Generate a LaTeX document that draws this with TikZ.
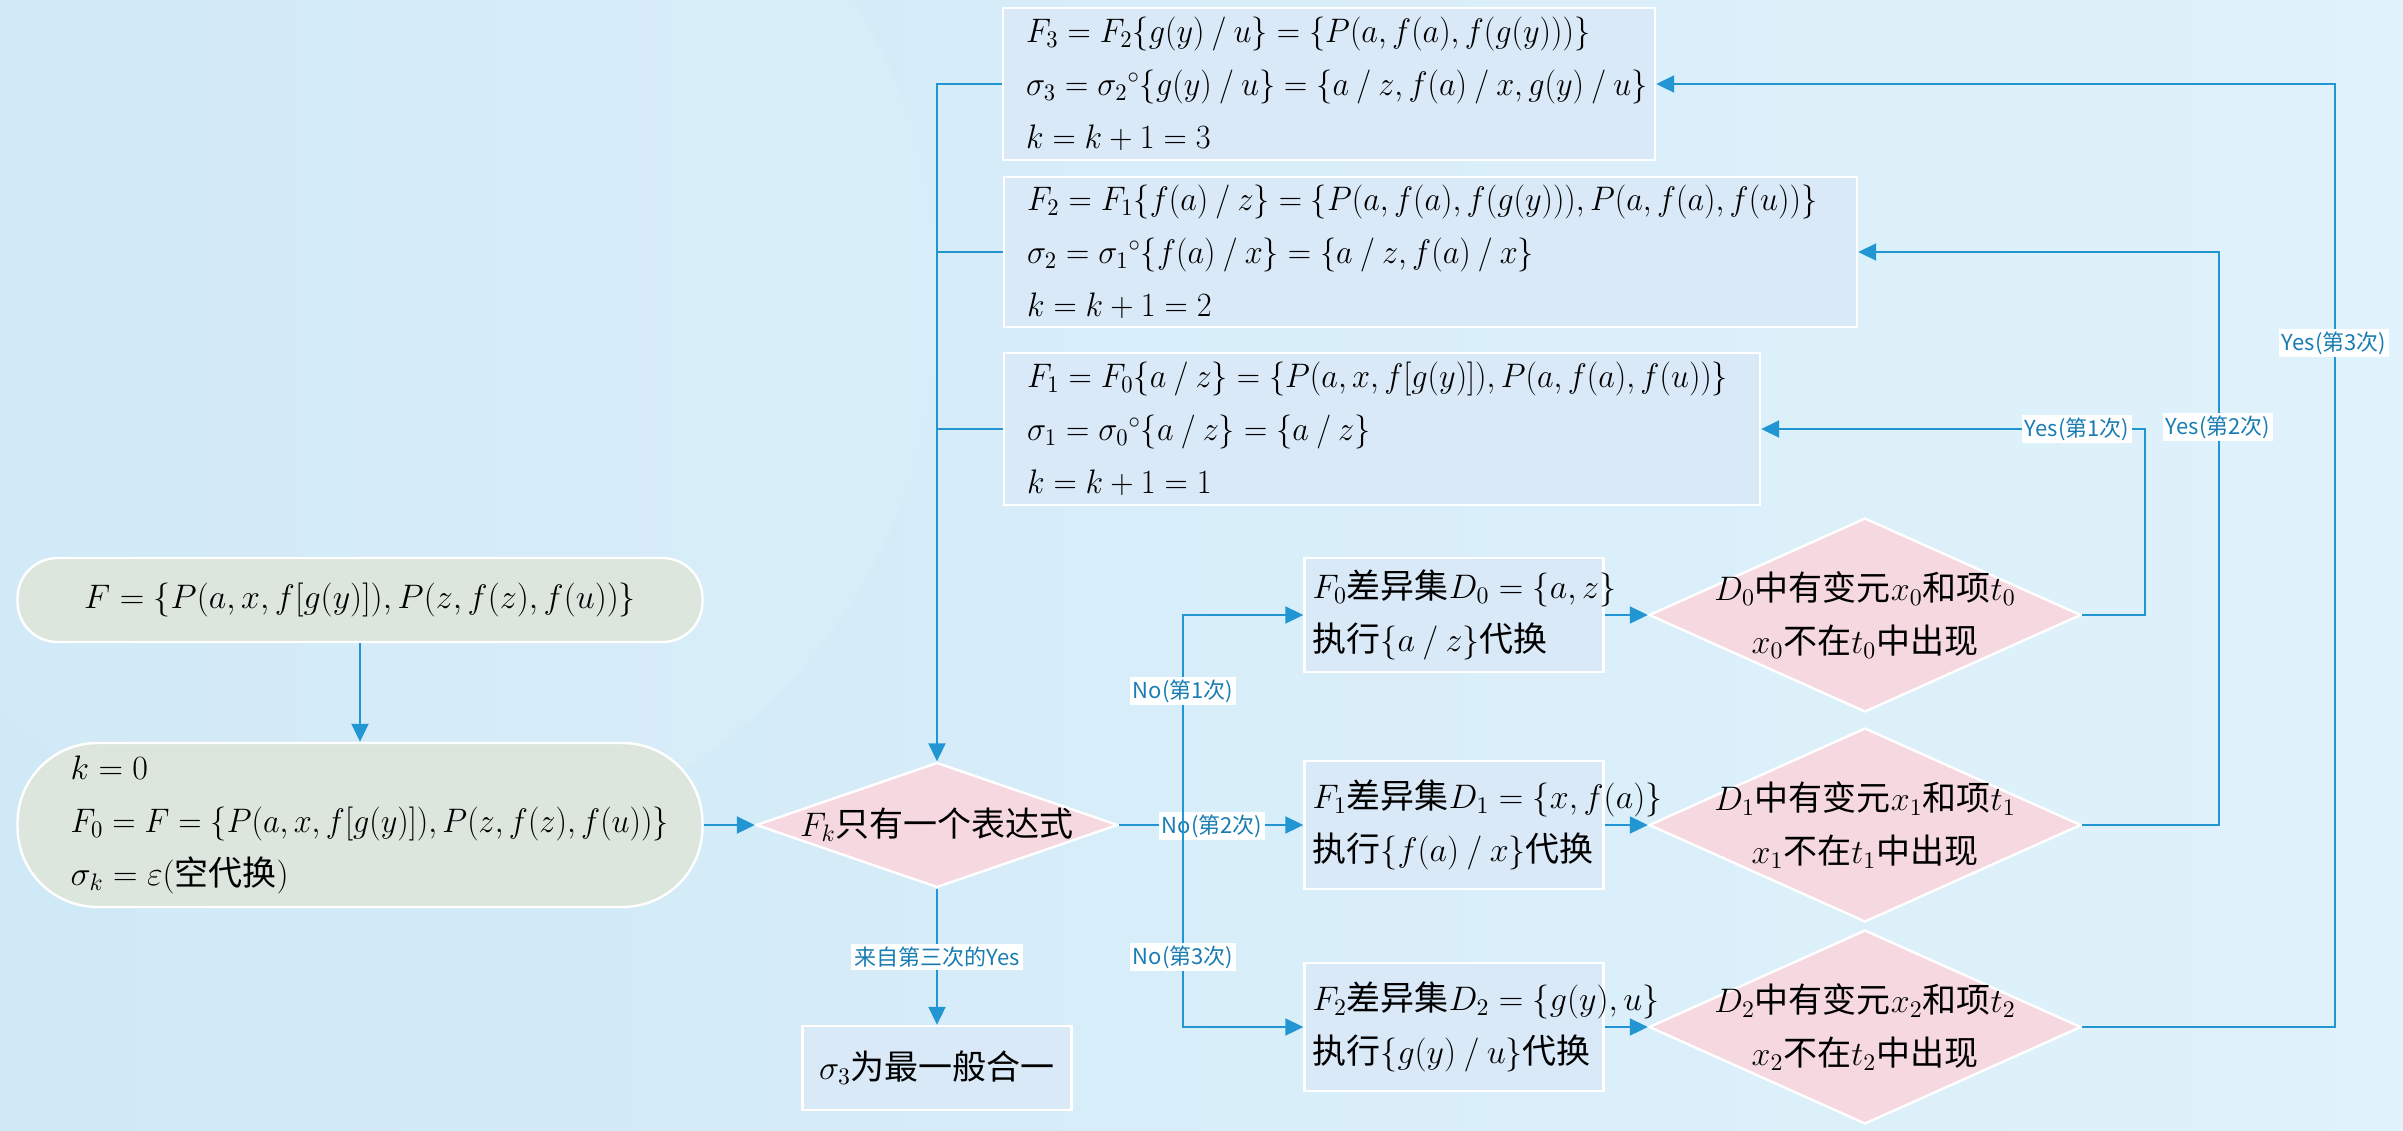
\RequirePackage{fix-cm}
\documentclass[tikz,border=0pt]{standalone}
\usepackage{fontspec}
\usepackage{graphicx}
\newfontfamily\cjk{Noto Sans CJK SC}
\usetikzlibrary{arrows.meta,shapes.geometric,calc}
\definecolor{bgA}{RGB}{207,233,247}
\definecolor{bgB}{RGB}{224,242,251}
\definecolor{lineblue}{RGB}{33,150,211}
\definecolor{boxblue}{RGB}{218,233,247}
\definecolor{diapink}{RGB}{246,217,224}
\definecolor{greenbox}{RGB}{220,230,221}
\definecolor{lbltext}{RGB}{25,125,180}
\newcommand{\zh}[1]{{\cjk #1}}
\newcommand{\sls}{\mathbin{/}}
\newcommand{\sq}[1]{\scalebox{0.95}[1]{#1}}
\newcommand{\mf}{\fontsize{17}{26.5}\selectfont}
\newcommand{\lf}{\cjk\fontsize{11}{13}\selectfont}
\begin{document}
\begin{tikzpicture}[x=0.5pt,y=-0.5pt,
  conn/.style={draw=lineblue, line width=1pt},
  arr/.style={conn, -{Triangle[length=9pt,width=8.5pt]}},
  rbox/.style={rectangle, draw=white, line width=1.2pt, fill=boxblue, inner ysep=0pt, font=\mf, align=left},
  gbox/.style={rectangle, draw=white, line width=1.2pt, fill=greenbox, font=\mf},
  dia/.style={diamond, draw=white, line width=1.2pt, fill=diapink, inner sep=0pt},
  dtxt/.style={font=\mf, align=center, inner sep=0pt},
  lbl/.style={fill=white, text=lbltext, font=\lf, inner xsep=1.5pt, inner ysep=1.5pt}
]
\useasboundingbox (0,0) rectangle (2403,1130);
% background
\shade[left color=bgA, right color=bgB] (0,0) rectangle (2403,1130);
\fill[white, opacity=0.07] (380,300) circle (560);

% top result boxes
\node[rbox, text width=303pt, inner xsep=11.5pt, minimum height=76pt] (F3) at (1329,84)
 {\sq{$F_3 = F_2\{g(y)\sls u\} = \{P(a,f(a),f(g(y)))\}$}\\
  \sq{$\sigma_3 = \sigma_2{}^{\circ}\{g(y)\sls u\} = \{a\sls z, f(a)\sls x, g(y)\sls u\}$}\\
  \sq{$k = k+1 = 3$}};
\node[rbox, text width=403.5pt, inner xsep=11.5pt, minimum height=75pt] (F2) at (1430.5,252)
 {\sq{$F_2 = F_1\{f(a)\sls z\} = \{P(a,f(a),f(g(y))),P(a,f(a),f(u))\}$}\\
  \sq{$\sigma_2 = \sigma_1{}^{\circ}\{f(a)\sls x\} = \{a\sls z, f(a)\sls x\}$}\\
  \sq{$k = k+1 = 2$}};
\node[rbox, text width=355pt, inner xsep=11.5pt, minimum height=76pt] (F1) at (1382,429)
 {\sq{$F_1 = F_0\{a\sls z\} = \{P(a,x,f[g(y)]),P(a,f(a),f(u))\}$}\\
  \sq{$\sigma_1 = \sigma_0{}^{\circ}\{a\sls z\} = \{a\sls z\}$}\\
  \sq{$k = k+1 = 1$}};

% left column
\node[gbox, rounded corners=20pt, minimum width=342.5pt, minimum height=42pt] (start) at (360,600)
 {$F = \{P(a,x,f[g(y)]),P(z,f(z),f(u))\}$};
\node[gbox, rounded corners=40pt, minimum width=342.5pt, minimum height=82pt] (init) at (360,825) {};
\node[font=\mf, align=left, anchor=west, inner sep=0pt] (initT) at ($(init.west)+(54,0)$)
 {$k=0$\\ \sq{$F_0 = F = \{P(a,x,f[g(y)]),P(z,f(z),f(u))\}$}\\ $\sigma_k = \varepsilon($\zh{空代换}$)$};

% decision Fk
\node[dia, minimum width=181pt, minimum height=62.5pt] (fk) at (937,825) {};
\node[dtxt] (fkT) at (fk) {$F_k$\zh{只有一个表达式}};
\node[rbox, align=center, minimum width=134.5pt, minimum height=42pt] (s3) at (937,1068) {$\sigma_3$\zh{为最一般合一}};

% difference-set boxes
\node[rbox, text width=141.5pt, inner xsep=4pt, minimum height=57pt] (b0) at (1454,615)
 {\mbox{$F_0$\zh{差异集}$D_0 = \{a,z\}$}\\ \mbox{\zh{执行}$\{a\sls z\}$\zh{代换}}};
\node[rbox, text width=141.5pt, inner xsep=4pt, minimum height=64pt] (b1) at (1454,825)
 {\mbox{$F_1$\zh{差异集}$D_1 = \{x,f(a)\}$}\\ \mbox{\zh{执行}$\{f(a)\sls x\}$\zh{代换}}};
\node[rbox, text width=141.5pt, inner xsep=4pt, minimum height=64pt] (b2) at (1454,1027)
 {\mbox{$F_2$\zh{差异集}$D_2 = \{g(y),u\}$}\\ \mbox{\zh{执行}$\{g(y)\sls u\}$\zh{代换}}};

% condition diamonds
\node[dia, minimum width=216pt, minimum height=97pt] (d0) at (1865,615) {};
\node[dtxt] (d0T) at (d0) {$D_0$\zh{中有变元}$x_0$\zh{和项}$t_0$\\ $x_0$\zh{不在}$t_0$\zh{中出现}};
\node[dia, minimum width=216pt, minimum height=97pt] (d1) at (1865,825) {};
\node[dtxt] (d1T) at (d1) {$D_1$\zh{中有变元}$x_1$\zh{和项}$t_1$\\ $x_1$\zh{不在}$t_1$\zh{中出现}};
\node[dia, minimum width=216pt, minimum height=97pt] (d2) at (1865,1027) {};
\node[dtxt] (d2T) at (d2) {$D_2$\zh{中有变元}$x_2$\zh{和项}$t_2$\\ $x_2$\zh{不在}$t_2$\zh{中出现}};

% connectors
\draw[arr] (start) -- (init);
\draw[arr] (init.east) -- (fk.west);
\draw[arr] (F3.west) -| (fk.north);
\draw[conn] (F2.west) -- (F2.west -| fk.north);
\draw[conn] (F1.west) -- (F1.west -| fk.north);
\draw[arr] (fk.south) -- (s3.north);
\draw[arr] (fk.east) -- (b1.west);
\coordinate (nb) at (1183,825);
\node[lbl] (lno2) at (1212,826) {No(第2次)};
\draw[arr] (nb) |- (b0.west);
\draw[arr] (nb) |- (b2.west);
\draw[arr] (b0.east) -- (d0.west);
\draw[arr] (b1.east) -- (d1.west);
\draw[arr] (b2.east) -- (d2.west);
\draw[arr] (d0.east) -- ++(63,0) |- (F1.east);
\draw[arr] (d1.east) -- ++(137,0) |- (F2.east);
\draw[arr] (d2.east) -- ++(253,0) |- (F3.east);

% labels
\node[lbl] (lys) at (937,957) {来自第三次的Yes};
\node[lbl] (lno1) at (1183,691) {No(第1次)};
\node[lbl] (lno3) at (1183,957) {No(第3次)};
\node[lbl] (lye1) at (2077,429) {Yes(第1次)};
\node[lbl] (lye2) at (2218,427) {Yes(第2次)};
\node[lbl] (lye3) at (2334,343) {Yes(第3次)};
\end{tikzpicture}
\end{document}
